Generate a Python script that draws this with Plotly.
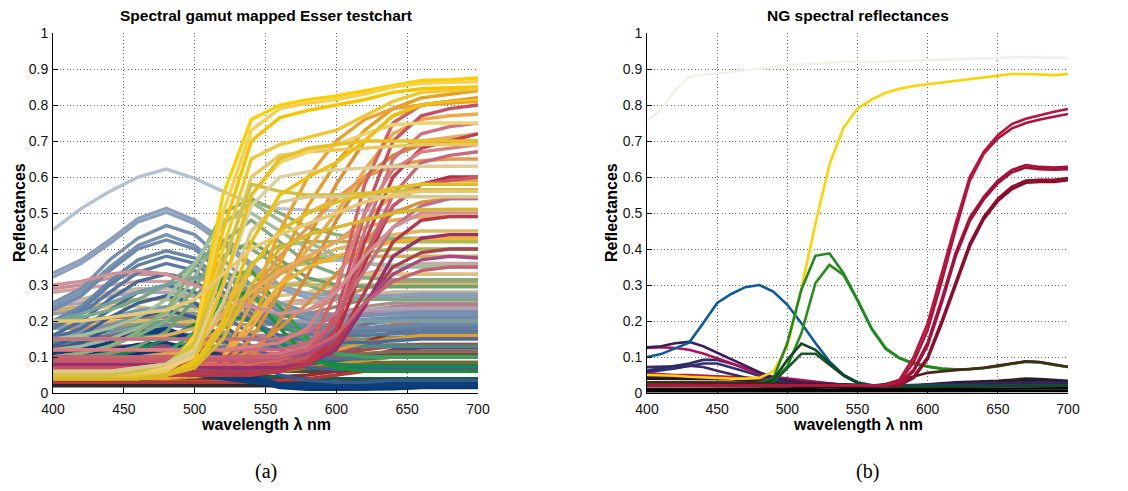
import plotly.graph_objects as go

# ---------------------------------------------------------------------------
# Panel (a): spectral gamut mapped Esser testchart (20 nm sampling)
# ---------------------------------------------------------------------------
wl_esser = [400, 420, 440, 460, 480, 500, 520, 540, 560, 580, 600, 620, 640, 660, 680, 700]

esser_neutral = [
    [0.29, 0.30, 0.32, 0.33, 0.33, 0.32, 0.30, 0.27, 0.25, 0.25, 0.26, 0.27, 0.28, 0.28, 0.28, 0.28],
    [0.28, 0.29, 0.30, 0.31, 0.31, 0.30, 0.28, 0.26, 0.25, 0.26, 0.29, 0.33, 0.35, 0.36, 0.36, 0.36],
    [0.22, 0.23, 0.24, 0.24, 0.23, 0.23, 0.25, 0.28, 0.30, 0.31, 0.32, 0.33, 0.33, 0.33, 0.33, 0.33],
    [0.20, 0.20, 0.21, 0.21, 0.20, 0.20, 0.22, 0.25, 0.27, 0.28, 0.30, 0.32, 0.33, 0.33, 0.33, 0.33],
    [0.25, 0.26, 0.28, 0.29, 0.29, 0.28, 0.27, 0.26, 0.25, 0.25, 0.26, 0.27, 0.28, 0.28, 0.28, 0.28],
    [0.18, 0.18, 0.19, 0.19, 0.19, 0.19, 0.19, 0.19, 0.19, 0.20, 0.22, 0.24, 0.25, 0.25, 0.25, 0.25],
    [0.22, 0.23, 0.25, 0.26, 0.26, 0.25, 0.23, 0.21, 0.20, 0.20, 0.21, 0.22, 0.23, 0.23, 0.23, 0.23],
    [0.14, 0.14, 0.15, 0.15, 0.15, 0.15, 0.16, 0.17, 0.18, 0.19, 0.21, 0.23, 0.24, 0.24, 0.24, 0.24],
    [0.16, 0.17, 0.18, 0.19, 0.19, 0.18, 0.17, 0.16, 0.16, 0.17, 0.19, 0.22, 0.24, 0.245, 0.245, 0.245],
    [0.18, 0.18, 0.19, 0.19, 0.19, 0.19, 0.20, 0.21, 0.22, 0.23, 0.26, 0.29, 0.31, 0.31, 0.31, 0.31],
    [0.19, 0.19, 0.20, 0.20, 0.20, 0.20, 0.22, 0.27, 0.33, 0.37, 0.40, 0.42, 0.44, 0.45, 0.45, 0.45],
    [0.23, 0.24, 0.25, 0.26, 0.26, 0.27, 0.30, 0.33, 0.35, 0.36, 0.37, 0.38, 0.38, 0.38, 0.38, 0.38],
    [0.16, 0.17, 0.19, 0.21, 0.22, 0.22, 0.21, 0.20, 0.19, 0.19, 0.19, 0.19, 0.20, 0.20, 0.20, 0.20],
    [0.24, 0.25, 0.27, 0.28, 0.28, 0.27, 0.25, 0.23, 0.22, 0.22, 0.22, 0.23, 0.235, 0.235, 0.235, 0.235],
]
esser_neutral_colors = ["#c89098", "#d4a0a0", "#d8c080", "#e0c080", "#c8b8a0", "#a89088", "#9a9ab0",
                        "#b0a088", "#b08090", "#c89060", "#e0b860", "#d0b060", "#8090a0", "#b0a0b8"]

esser_muted = [
    [0.13, 0.14, 0.16, 0.18, 0.19, 0.18, 0.16, 0.15, 0.15, 0.16, 0.17, 0.18, 0.19, 0.19, 0.19, 0.19],
    [0.10, 0.10, 0.11, 0.12, 0.13, 0.14, 0.15, 0.15, 0.15, 0.15, 0.155, 0.16, 0.165, 0.165, 0.165, 0.165],
    [0.12, 0.12, 0.12, 0.12, 0.12, 0.12, 0.12, 0.13, 0.14, 0.15, 0.16, 0.17, 0.18, 0.18, 0.18, 0.18],
    [0.14, 0.15, 0.16, 0.17, 0.17, 0.16, 0.14, 0.13, 0.13, 0.14, 0.16, 0.19, 0.21, 0.215, 0.215, 0.215],
    [0.06, 0.06, 0.065, 0.07, 0.08, 0.09, 0.10, 0.10, 0.10, 0.10, 0.10, 0.105, 0.11, 0.11, 0.11, 0.11],
    [0.15, 0.16, 0.17, 0.19, 0.20, 0.21, 0.21, 0.20, 0.19, 0.18, 0.18, 0.18, 0.18, 0.18, 0.18, 0.18],
    [0.08, 0.08, 0.085, 0.09, 0.09, 0.10, 0.11, 0.12, 0.13, 0.14, 0.145, 0.15, 0.155, 0.155, 0.155, 0.155],
    [0.09, 0.09, 0.10, 0.11, 0.11, 0.11, 0.10, 0.09, 0.09, 0.09, 0.095, 0.10, 0.105, 0.105, 0.105, 0.105],
    [0.09, 0.09, 0.09, 0.09, 0.09, 0.085, 0.08, 0.08, 0.08, 0.085, 0.10, 0.13, 0.15, 0.16, 0.16, 0.16],
    [0.04, 0.04, 0.045, 0.05, 0.055, 0.065, 0.075, 0.075, 0.07, 0.065, 0.065, 0.065, 0.07, 0.07, 0.07, 0.07],
    [0.18, 0.19, 0.21, 0.23, 0.24, 0.24, 0.23, 0.22, 0.215, 0.215, 0.215, 0.215, 0.22, 0.22, 0.22, 0.22],
    [0.20, 0.20, 0.21, 0.21, 0.21, 0.21, 0.21, 0.21, 0.21, 0.22, 0.24, 0.26, 0.27, 0.27, 0.27, 0.27],
]
esser_muted_colors = ["#7088a8", "#5a8a88", "#8a7a70", "#7a6a90", "#4a7a6a", "#6a9a8a",
                      "#8a8a60", "#6a7890", "#905060", "#3a7a60", "#7a9ab0", "#9a8070"]

esser_low = [
    [0.06, 0.06, 0.06, 0.06, 0.06, 0.06, 0.065, 0.07, 0.075, 0.08, 0.09, 0.10, 0.11, 0.11, 0.11, 0.11],
    [0.07, 0.07, 0.07, 0.07, 0.07, 0.07, 0.07, 0.07, 0.07, 0.08, 0.10, 0.14, 0.17, 0.18, 0.18, 0.18],
    [0.10, 0.10, 0.10, 0.10, 0.10, 0.10, 0.10, 0.10, 0.10, 0.11, 0.12, 0.14, 0.15, 0.155, 0.155, 0.155],
    [0.05, 0.05, 0.05, 0.055, 0.06, 0.07, 0.08, 0.08, 0.07, 0.065, 0.065, 0.065, 0.065, 0.065, 0.065, 0.065],
    [0.07, 0.07, 0.075, 0.08, 0.09, 0.10, 0.11, 0.10, 0.09, 0.085, 0.085, 0.085, 0.085, 0.085, 0.085, 0.085],
    [0.04, 0.04, 0.04, 0.04, 0.04, 0.045, 0.05, 0.055, 0.06, 0.06, 0.06, 0.06, 0.06, 0.06, 0.06, 0.06],
    [0.09, 0.09, 0.10, 0.10, 0.10, 0.09, 0.08, 0.07, 0.07, 0.07, 0.08, 0.10, 0.12, 0.125, 0.125, 0.125],
    [0.12, 0.12, 0.125, 0.13, 0.13, 0.13, 0.13, 0.13, 0.13, 0.13, 0.13, 0.13, 0.135, 0.135, 0.135, 0.135],
    [0.03, 0.03, 0.03, 0.03, 0.03, 0.03, 0.03, 0.03, 0.03, 0.03, 0.03, 0.035, 0.035, 0.035, 0.035, 0.035],
    [0.03, 0.03, 0.03, 0.03, 0.03, 0.035, 0.04, 0.05, 0.06, 0.07, 0.08, 0.09, 0.10, 0.10, 0.10, 0.10],
    [0.04, 0.04, 0.04, 0.04, 0.04, 0.04, 0.04, 0.04, 0.045, 0.05, 0.06, 0.07, 0.08, 0.08, 0.08, 0.08],
    [0.08, 0.08, 0.08, 0.08, 0.08, 0.08, 0.08, 0.08, 0.085, 0.09, 0.10, 0.12, 0.13, 0.135, 0.135, 0.135],
    [0.05, 0.05, 0.05, 0.055, 0.06, 0.07, 0.08, 0.08, 0.075, 0.07, 0.07, 0.07, 0.07, 0.07, 0.07, 0.07],
    [0.05, 0.05, 0.05, 0.05, 0.05, 0.05, 0.05, 0.045, 0.04, 0.04, 0.04, 0.04, 0.04, 0.04, 0.04, 0.04],
    [0.10, 0.10, 0.11, 0.11, 0.11, 0.11, 0.11, 0.10, 0.10, 0.10, 0.10, 0.10, 0.10, 0.10, 0.10, 0.10],
    [0.11, 0.11, 0.11, 0.11, 0.11, 0.11, 0.11, 0.11, 0.11, 0.12, 0.14, 0.17, 0.19, 0.20, 0.20, 0.20],
    [0.02, 0.02, 0.02, 0.02, 0.02, 0.02, 0.02, 0.02, 0.02, 0.02, 0.02, 0.02, 0.025, 0.025, 0.025, 0.025],
    [0.05, 0.05, 0.05, 0.05, 0.05, 0.05, 0.055, 0.06, 0.065, 0.07, 0.075, 0.08, 0.085, 0.085, 0.085, 0.085],
    [0.13, 0.13, 0.13, 0.13, 0.13, 0.12, 0.11, 0.10, 0.10, 0.10, 0.11, 0.13, 0.15, 0.16, 0.16, 0.16],
    [0.14, 0.14, 0.15, 0.16, 0.16, 0.16, 0.16, 0.15, 0.14, 0.13, 0.13, 0.13, 0.13, 0.13, 0.13, 0.13],
    [0.04, 0.04, 0.04, 0.04, 0.04, 0.045, 0.05, 0.06, 0.08, 0.10, 0.12, 0.14, 0.15, 0.16, 0.16, 0.16],
    [0.09, 0.09, 0.09, 0.09, 0.09, 0.09, 0.09, 0.09, 0.09, 0.095, 0.10, 0.11, 0.115, 0.115, 0.115, 0.115],
    [0.03, 0.03, 0.03, 0.035, 0.04, 0.05, 0.055, 0.05, 0.045, 0.04, 0.04, 0.04, 0.04, 0.04, 0.04, 0.04],
    [0.03, 0.03, 0.03, 0.03, 0.03, 0.03, 0.03, 0.03, 0.035, 0.04, 0.05, 0.06, 0.065, 0.065, 0.065, 0.065],
]
esser_low_colors = ["#6a4a3a", "#8a3a30", "#c04848", "#306050", "#2a7a50", "#504830", "#604878", "#708090",
                    "#404040", "#c8a020", "#883030", "#a05040", "#207858", "#3a3a5a", "#5a6a78", "#d07050",
                    "#2a2a2a", "#7a6a30", "#9a4a70", "#4a8a80", "#e0a030", "#8a6a50", "#1a5a48", "#b03838"]

esser_navy = [
    [0.11, 0.12, 0.14, 0.165, 0.17, 0.14, 0.09, 0.045, 0.02, 0.012, 0.012, 0.012, 0.015, 0.018, 0.018, 0.018],
    [0.09, 0.10, 0.12, 0.135, 0.14, 0.12, 0.08, 0.045, 0.02, 0.012, 0.012, 0.012, 0.014, 0.016, 0.016, 0.016],
    [0.08, 0.09, 0.10, 0.11, 0.11, 0.09, 0.06, 0.035, 0.015, 0.01, 0.01, 0.01, 0.012, 0.015, 0.015, 0.015],
    [0.06, 0.065, 0.07, 0.075, 0.075, 0.065, 0.045, 0.03, 0.02, 0.015, 0.015, 0.015, 0.018, 0.02, 0.02, 0.02],
    [0.12, 0.13, 0.15, 0.17, 0.18, 0.15, 0.10, 0.05, 0.025, 0.02, 0.02, 0.02, 0.022, 0.025, 0.025, 0.025],
    [0.05, 0.05, 0.055, 0.06, 0.06, 0.05, 0.04, 0.03, 0.025, 0.025, 0.025, 0.025, 0.028, 0.03, 0.03, 0.03],
]
esser_navy_colors = ["#0c3f80", "#0a3a78", "#083878", "#0a3c7c", "#103e7a", "#0a4078"]

esser_steel = [
    [0.453, 0.513, 0.56, 0.60, 0.622, 0.596, 0.56, 0.527, 0.512, 0.508, 0.507, 0.507, 0.507, 0.508, 0.51, 0.51],
    [0.333, 0.37, 0.425, 0.485, 0.513, 0.48, 0.425, 0.36, 0.30, 0.275, 0.27, 0.27, 0.27, 0.275, 0.275, 0.275],
    [0.322, 0.36, 0.415, 0.475, 0.502, 0.47, 0.415, 0.35, 0.29, 0.265, 0.26, 0.26, 0.26, 0.265, 0.265, 0.265],
    [0.25, 0.29, 0.37, 0.43, 0.465, 0.44, 0.37, 0.30, 0.25, 0.225, 0.215, 0.215, 0.22, 0.225, 0.225, 0.225],
    [0.24, 0.28, 0.35, 0.41, 0.44, 0.41, 0.345, 0.28, 0.235, 0.215, 0.205, 0.205, 0.21, 0.215, 0.215, 0.215],
    [0.23, 0.27, 0.34, 0.40, 0.425, 0.40, 0.33, 0.27, 0.225, 0.205, 0.20, 0.20, 0.205, 0.21, 0.21, 0.21],
    [0.20, 0.24, 0.31, 0.37, 0.395, 0.375, 0.31, 0.245, 0.20, 0.185, 0.18, 0.18, 0.185, 0.19, 0.19, 0.19],
    [0.19, 0.23, 0.30, 0.355, 0.38, 0.36, 0.30, 0.235, 0.19, 0.175, 0.17, 0.17, 0.175, 0.18, 0.18, 0.18],
    [0.18, 0.22, 0.28, 0.335, 0.36, 0.34, 0.28, 0.22, 0.18, 0.165, 0.16, 0.16, 0.165, 0.17, 0.17, 0.17],
    [0.16, 0.20, 0.26, 0.31, 0.33, 0.31, 0.255, 0.20, 0.16, 0.145, 0.14, 0.14, 0.145, 0.15, 0.15, 0.15],
    [0.15, 0.18, 0.23, 0.28, 0.30, 0.28, 0.22, 0.16, 0.12, 0.10, 0.095, 0.095, 0.10, 0.10, 0.10, 0.10],
    [0.13, 0.16, 0.21, 0.25, 0.27, 0.25, 0.19, 0.13, 0.09, 0.07, 0.065, 0.065, 0.07, 0.07, 0.07, 0.07],
    [0.12, 0.14, 0.18, 0.21, 0.23, 0.21, 0.15, 0.09, 0.05, 0.035, 0.03, 0.03, 0.035, 0.035, 0.035, 0.035],
]
esser_steel_colors = ["#b4c2d2", "#8ca0bc", "#8ca0bc", "#7890b0", "#7a92b2", "#6f8aac",
                      "#6a86a8", "#5e7ea4", "#5878a0", "#4a6c98", "#4e6e9a", "#3f6294", "#345a90"]

esser_green = [
    [0.12, 0.13, 0.15, 0.18, 0.22, 0.32, 0.47, 0.53, 0.48, 0.42, 0.38, 0.36, 0.35, 0.35, 0.35, 0.35],
    [0.10, 0.11, 0.13, 0.16, 0.20, 0.29, 0.42, 0.48, 0.42, 0.36, 0.33, 0.32, 0.315, 0.315, 0.315, 0.315],
    [0.20, 0.21, 0.23, 0.26, 0.30, 0.36, 0.42, 0.40, 0.35, 0.30, 0.27, 0.26, 0.26, 0.26, 0.26, 0.26],
    [0.05, 0.05, 0.05, 0.06, 0.08, 0.16, 0.32, 0.34, 0.24, 0.15, 0.11, 0.10, 0.10, 0.10, 0.10, 0.10],
    [0.04, 0.04, 0.04, 0.05, 0.06, 0.13, 0.27, 0.28, 0.18, 0.10, 0.07, 0.06, 0.06, 0.06, 0.06, 0.06],
    [0.08, 0.09, 0.10, 0.12, 0.15, 0.19, 0.22, 0.20, 0.14, 0.10, 0.08, 0.075, 0.075, 0.075, 0.075, 0.075],
    [0.05, 0.05, 0.06, 0.07, 0.09, 0.13, 0.24, 0.36, 0.41, 0.42, 0.42, 0.42, 0.42, 0.42, 0.42, 0.42],
    [0.05, 0.05, 0.06, 0.07, 0.08, 0.11, 0.19, 0.29, 0.35, 0.37, 0.38, 0.39, 0.40, 0.40, 0.40, 0.40],
    [0.06, 0.06, 0.07, 0.08, 0.10, 0.14, 0.22, 0.28, 0.30, 0.30, 0.30, 0.30, 0.30, 0.30, 0.30, 0.30],
    [0.10, 0.10, 0.11, 0.13, 0.17, 0.26, 0.38, 0.42, 0.37, 0.32, 0.30, 0.295, 0.295, 0.295, 0.295, 0.295],
    [0.20, 0.22, 0.25, 0.28, 0.30, 0.32, 0.33, 0.30, 0.25, 0.21, 0.20, 0.20, 0.20, 0.20, 0.20, 0.20],
    [0.07, 0.07, 0.08, 0.09, 0.11, 0.17, 0.26, 0.27, 0.20, 0.14, 0.11, 0.10, 0.10, 0.10, 0.10, 0.10],
    [0.10, 0.11, 0.13, 0.17, 0.23, 0.35, 0.50, 0.54, 0.50, 0.46, 0.44, 0.43, 0.43, 0.43, 0.43, 0.43],
    [0.15, 0.16, 0.18, 0.21, 0.26, 0.36, 0.48, 0.50, 0.45, 0.40, 0.37, 0.36, 0.355, 0.355, 0.355, 0.355],
]
esser_green_colors = ["#9cb898", "#80ac80", "#7aa888", "#30a040", "#189038", "#10885c", "#b0b850",
                      "#a8b048", "#b8b860", "#70a070", "#78a0a0", "#40a060", "#88b078", "#a0c0a0"]

esser_orange = [
    [0.05, 0.05, 0.05, 0.05, 0.05, 0.06, 0.10, 0.20, 0.36, 0.52, 0.64, 0.73, 0.79, 0.82, 0.83, 0.84],
    [0.05, 0.05, 0.05, 0.05, 0.05, 0.05, 0.08, 0.15, 0.28, 0.43, 0.58, 0.70, 0.77, 0.80, 0.81, 0.82],
    [0.06, 0.06, 0.06, 0.06, 0.06, 0.07, 0.10, 0.18, 0.30, 0.40, 0.50, 0.62, 0.72, 0.76, 0.77, 0.775],
    [0.08, 0.08, 0.08, 0.08, 0.09, 0.12, 0.22, 0.35, 0.45, 0.50, 0.54, 0.60, 0.66, 0.70, 0.71, 0.72],
    [0.05, 0.05, 0.05, 0.05, 0.05, 0.05, 0.06, 0.10, 0.20, 0.33, 0.48, 0.60, 0.66, 0.69, 0.70, 0.70],
    [0.10, 0.10, 0.10, 0.10, 0.10, 0.12, 0.18, 0.28, 0.38, 0.46, 0.54, 0.60, 0.63, 0.645, 0.65, 0.65],
    [0.04, 0.04, 0.04, 0.04, 0.04, 0.05, 0.10, 0.25, 0.45, 0.60, 0.70, 0.76, 0.79, 0.80, 0.805, 0.81],
    [0.10, 0.10, 0.10, 0.10, 0.11, 0.13, 0.18, 0.26, 0.33, 0.38, 0.42, 0.48, 0.55, 0.58, 0.59, 0.59],
    [0.05, 0.05, 0.05, 0.05, 0.05, 0.06, 0.08, 0.12, 0.18, 0.25, 0.33, 0.42, 0.50, 0.53, 0.54, 0.54],
    [0.15, 0.15, 0.15, 0.15, 0.16, 0.18, 0.22, 0.28, 0.34, 0.38, 0.42, 0.46, 0.48, 0.49, 0.49, 0.49],
    [0.04, 0.04, 0.04, 0.04, 0.05, 0.06, 0.10, 0.20, 0.30, 0.35, 0.38, 0.40, 0.42, 0.43, 0.43, 0.43],
]
esser_orange_colors = ["#e8a020", "#e09030", "#f0a848", "#e8b060", "#d88838", "#e89850",
                       "#f0a030", "#e0a050", "#d89040", "#e8a860", "#f0b030"]

esser_red = [
    [0.08, 0.08, 0.08, 0.08, 0.08, 0.08, 0.08, 0.08, 0.09, 0.12, 0.28, 0.58, 0.75, 0.80, 0.81, 0.815],
    [0.07, 0.07, 0.07, 0.07, 0.07, 0.07, 0.07, 0.07, 0.08, 0.10, 0.22, 0.50, 0.70, 0.77, 0.79, 0.80],
    [0.10, 0.10, 0.10, 0.10, 0.10, 0.10, 0.10, 0.10, 0.11, 0.13, 0.20, 0.45, 0.65, 0.72, 0.74, 0.75],
    [0.06, 0.06, 0.06, 0.06, 0.06, 0.06, 0.06, 0.06, 0.07, 0.09, 0.18, 0.42, 0.60, 0.68, 0.70, 0.72],
    [0.05, 0.05, 0.05, 0.05, 0.05, 0.05, 0.05, 0.05, 0.06, 0.08, 0.16, 0.36, 0.52, 0.58, 0.60, 0.60],
    [0.12, 0.12, 0.12, 0.12, 0.12, 0.12, 0.12, 0.12, 0.12, 0.14, 0.20, 0.38, 0.55, 0.64, 0.66, 0.67],
    [0.15, 0.15, 0.15, 0.15, 0.15, 0.15, 0.15, 0.15, 0.15, 0.17, 0.22, 0.34, 0.46, 0.52, 0.54, 0.54],
    [0.06, 0.06, 0.06, 0.06, 0.06, 0.06, 0.06, 0.06, 0.065, 0.08, 0.13, 0.25, 0.35, 0.39, 0.40, 0.40],
    [0.08, 0.08, 0.08, 0.08, 0.08, 0.07, 0.07, 0.07, 0.07, 0.08, 0.12, 0.24, 0.38, 0.43, 0.44, 0.44],
    [0.10, 0.10, 0.10, 0.10, 0.10, 0.10, 0.10, 0.10, 0.10, 0.11, 0.15, 0.25, 0.33, 0.37, 0.38, 0.375],
    [0.12, 0.12, 0.12, 0.12, 0.12, 0.12, 0.12, 0.13, 0.14, 0.18, 0.30, 0.50, 0.62, 0.67, 0.68, 0.69],
    [0.09, 0.09, 0.09, 0.09, 0.09, 0.09, 0.09, 0.09, 0.10, 0.12, 0.20, 0.38, 0.52, 0.58, 0.59, 0.60],
    [0.05, 0.05, 0.05, 0.05, 0.05, 0.05, 0.05, 0.05, 0.06, 0.08, 0.14, 0.28, 0.42, 0.48, 0.49, 0.49],
    [0.10, 0.10, 0.10, 0.10, 0.10, 0.10, 0.10, 0.10, 0.10, 0.12, 0.16, 0.25, 0.31, 0.34, 0.35, 0.35],
    [0.30, 0.31, 0.33, 0.34, 0.33, 0.30, 0.27, 0.24, 0.22, 0.23, 0.28, 0.38, 0.46, 0.50, 0.50, 0.50],
]
esser_red_colors = ["#d86060", "#c85060", "#d07080", "#c04050", "#b83040", "#c86878", "#c07080", "#a84050",
                    "#983070", "#a84880", "#d88080", "#c85868", "#b83848", "#c86070", "#d09098"]

esser_yellow = [
    [0.05, 0.05, 0.05, 0.05, 0.06, 0.16, 0.55, 0.76, 0.80, 0.815, 0.825, 0.84, 0.855, 0.868, 0.87, 0.875],
    [0.05, 0.05, 0.05, 0.055, 0.065, 0.15, 0.50, 0.73, 0.79, 0.805, 0.815, 0.83, 0.85, 0.86, 0.862, 0.865],
    [0.05, 0.05, 0.05, 0.05, 0.06, 0.13, 0.45, 0.70, 0.765, 0.785, 0.80, 0.815, 0.835, 0.845, 0.848, 0.85],
    [0.05, 0.05, 0.05, 0.05, 0.06, 0.12, 0.40, 0.65, 0.69, 0.71, 0.73, 0.77, 0.81, 0.835, 0.84, 0.845],
    [0.05, 0.05, 0.05, 0.05, 0.06, 0.11, 0.35, 0.60, 0.66, 0.67, 0.675, 0.68, 0.685, 0.69, 0.69, 0.69],
    [0.06, 0.06, 0.06, 0.06, 0.07, 0.10, 0.30, 0.55, 0.64, 0.67, 0.69, 0.72, 0.745, 0.75, 0.75, 0.75],
    [0.05, 0.05, 0.05, 0.06, 0.08, 0.14, 0.36, 0.58, 0.56, 0.55, 0.55, 0.555, 0.56, 0.565, 0.565, 0.565],
    [0.06, 0.06, 0.06, 0.07, 0.08, 0.12, 0.30, 0.52, 0.60, 0.615, 0.62, 0.625, 0.63, 0.63, 0.63, 0.63],
    [0.06, 0.06, 0.06, 0.07, 0.08, 0.11, 0.25, 0.45, 0.53, 0.545, 0.545, 0.545, 0.545, 0.545, 0.545, 0.545],
    [0.04, 0.04, 0.04, 0.045, 0.05, 0.09, 0.30, 0.55, 0.65, 0.68, 0.69, 0.70, 0.70, 0.70, 0.70, 0.70],
    [0.04, 0.04, 0.04, 0.04, 0.05, 0.08, 0.20, 0.42, 0.55, 0.60, 0.64, 0.70, 0.77, 0.80, 0.81, 0.815],
    [0.04, 0.04, 0.04, 0.04, 0.05, 0.07, 0.18, 0.35, 0.45, 0.50, 0.53, 0.55, 0.57, 0.58, 0.58, 0.58],
    [0.04, 0.04, 0.04, 0.04, 0.05, 0.07, 0.15, 0.30, 0.40, 0.44, 0.46, 0.48, 0.50, 0.51, 0.51, 0.51],
    [0.20, 0.20, 0.21, 0.22, 0.23, 0.26, 0.33, 0.40, 0.44, 0.47, 0.50, 0.53, 0.55, 0.56, 0.56, 0.56],
]
esser_yellow_colors = ["#fcd000", "#f8d050", "#f8c400", "#f0c830", "#e8c860", "#f0d070", "#d4c040",
                       "#dcd09c", "#d8c890", "#e8c020", "#f0c010", "#e0c020", "#d8b828", "#e8c870"]

# ---------------------------------------------------------------------------
# Panel (b): NG spectral reflectances (10 nm sampling)
# ---------------------------------------------------------------------------
wl_ng = [400, 410, 420, 430, 440, 450, 460, 470, 480, 490, 500, 510, 520, 530, 540, 550,
         560, 570, 580, 590, 600, 610, 620, 630, 640, 650, 660, 670, 680, 690, 700]

ng_white = [0.756, 0.786, 0.841, 0.878, 0.884, 0.888, 0.891, 0.895, 0.900, 0.905, 0.910, 0.913, 0.916, 0.918, 0.920, 0.921,
            0.919, 0.921, 0.922, 0.923, 0.924, 0.925, 0.926, 0.927, 0.929, 0.931, 0.933, 0.933, 0.932, 0.931, 0.931]
ng_dark_f = [0.005, 0.005, 0.005, 0.005, 0.005, 0.005, 0.005, 0.005, 0.005, 0.005, 0.005, 0.005, 0.004, 0.004, 0.004, 0.004,
             0.004, 0.004, 0.004, 0.004, 0.005, 0.005, 0.005, 0.005, 0.005, 0.005, 0.006, 0.006, 0.006, 0.006, 0.006]
ng_dark_e = [0.012, 0.012, 0.012, 0.012, 0.012, 0.012, 0.012, 0.011, 0.011, 0.011, 0.010, 0.010, 0.010, 0.009, 0.009, 0.009,
             0.009, 0.009, 0.009, 0.010, 0.010, 0.011, 0.011, 0.012, 0.012, 0.012, 0.013, 0.014, 0.014, 0.013, 0.013]
ng_dark_d = [0.020, 0.020, 0.020, 0.020, 0.020, 0.020, 0.020, 0.019, 0.019, 0.018, 0.018, 0.017, 0.016, 0.015, 0.014, 0.014,
             0.013, 0.013, 0.014, 0.015, 0.016, 0.017, 0.018, 0.018, 0.019, 0.020, 0.021, 0.022, 0.022, 0.021, 0.021]
ng_dark_c = [0.030, 0.030, 0.030, 0.030, 0.030, 0.030, 0.029, 0.028, 0.027, 0.026, 0.025, 0.024, 0.022, 0.020, 0.018, 0.017,
             0.016, 0.016, 0.017, 0.018, 0.020, 0.022, 0.023, 0.024, 0.025, 0.026, 0.028, 0.030, 0.029, 0.028, 0.027]
ng_dark_b = [0.040, 0.040, 0.040, 0.040, 0.040, 0.040, 0.038, 0.035, 0.032, 0.030, 0.028, 0.026, 0.024, 0.022, 0.020, 0.018,
             0.018, 0.018, 0.018, 0.020, 0.022, 0.025, 0.027, 0.028, 0.029, 0.031, 0.034, 0.036, 0.035, 0.033, 0.032]
ng_dark_a = [0.045, 0.045, 0.046, 0.047, 0.047, 0.045, 0.042, 0.038, 0.034, 0.030, 0.028, 0.026, 0.024, 0.022, 0.020, 0.019,
             0.018, 0.018, 0.019, 0.020, 0.024, 0.028, 0.030, 0.031, 0.032, 0.034, 0.037, 0.040, 0.039, 0.036, 0.034]
ng_rose = [0.055, 0.052, 0.050, 0.050, 0.048, 0.046, 0.044, 0.042, 0.040, 0.038, 0.037, 0.035, 0.030, 0.025, 0.022, 0.020,
           0.020, 0.020, 0.020, 0.020, 0.020, 0.020, 0.020, 0.020, 0.020, 0.020, 0.021, 0.022, 0.021, 0.020, 0.020]
ng_indigo_c = [0.058, 0.062, 0.068, 0.075, 0.082, 0.082, 0.072, 0.060, 0.048, 0.038, 0.032, 0.028, 0.025, 0.023, 0.021, 0.020,
               0.019, 0.019, 0.019, 0.020, 0.021, 0.022, 0.023, 0.023, 0.024, 0.025, 0.027, 0.028, 0.027, 0.026, 0.026]
ng_indigo_b = [0.072, 0.072, 0.074, 0.076, 0.072, 0.062, 0.052, 0.043, 0.036, 0.032, 0.030, 0.028, 0.026, 0.024, 0.022, 0.021,
               0.020, 0.020, 0.020, 0.021, 0.022, 0.023, 0.024, 0.024, 0.025, 0.026, 0.028, 0.029, 0.028, 0.027, 0.027]
ng_indigo_a = [0.062, 0.068, 0.074, 0.082, 0.092, 0.092, 0.082, 0.068, 0.055, 0.042, 0.035, 0.030, 0.027, 0.025, 0.023, 0.022,
               0.021, 0.021, 0.021, 0.022, 0.023, 0.024, 0.025, 0.025, 0.026, 0.027, 0.029, 0.030, 0.029, 0.028, 0.028]
ng_magenta = [0.125, 0.127, 0.125, 0.120, 0.110, 0.097, 0.083, 0.068, 0.054, 0.045, 0.040, 0.036, 0.030, 0.025, 0.022, 0.020,
              0.020, 0.020, 0.020, 0.020, 0.020, 0.020, 0.020, 0.020, 0.020, 0.020, 0.021, 0.022, 0.021, 0.020, 0.020]
ng_purple = [0.127, 0.130, 0.138, 0.142, 0.130, 0.112, 0.093, 0.075, 0.058, 0.042, 0.035, 0.030, 0.027, 0.025, 0.023, 0.022,
             0.021, 0.021, 0.022, 0.022, 0.022, 0.022, 0.022, 0.022, 0.022, 0.023, 0.024, 0.025, 0.024, 0.023, 0.023]
ng_blue = [0.100, 0.108, 0.124, 0.140, 0.194, 0.250, 0.275, 0.294, 0.300, 0.282, 0.245, 0.194, 0.139, 0.088, 0.050, 0.030,
           0.022, 0.020, 0.020, 0.020, 0.020, 0.020, 0.020, 0.020, 0.020, 0.020, 0.021, 0.022, 0.021, 0.020, 0.020]
ng_yellow = [0.050, 0.050, 0.048, 0.045, 0.043, 0.040, 0.040, 0.040, 0.042, 0.060, 0.130, 0.290, 0.470, 0.635, 0.737, 0.790,
             0.815, 0.834, 0.845, 0.853, 0.858, 0.863, 0.867, 0.871, 0.877, 0.882, 0.886, 0.886, 0.884, 0.883, 0.886]
ng_green_b = [0.020, 0.020, 0.020, 0.020, 0.020, 0.020, 0.020, 0.020, 0.022, 0.035, 0.074, 0.166, 0.305, 0.356, 0.328, 0.257,
              0.178, 0.123, 0.096, 0.082, 0.073, 0.067, 0.065, 0.066, 0.069, 0.074, 0.081, 0.087, 0.085, 0.078, 0.072]
ng_green_a = [0.025, 0.025, 0.025, 0.025, 0.025, 0.025, 0.025, 0.026, 0.028, 0.040, 0.139, 0.287, 0.381, 0.388, 0.333, 0.259,
              0.180, 0.125, 0.097, 0.083, 0.074, 0.068, 0.066, 0.066, 0.069, 0.074, 0.081, 0.087, 0.085, 0.078, 0.072]
ng_dkgreen_b = [0.020, 0.020, 0.020, 0.020, 0.020, 0.020, 0.020, 0.020, 0.022, 0.030, 0.070, 0.109, 0.109, 0.078, 0.048, 0.028,
                0.020, 0.018, 0.018, 0.018, 0.018, 0.020, 0.020, 0.020, 0.020, 0.020, 0.020, 0.020, 0.020, 0.020, 0.020]
ng_dkgreen_a = [0.020, 0.020, 0.020, 0.020, 0.020, 0.020, 0.020, 0.020, 0.025, 0.037, 0.092, 0.137, 0.120, 0.083, 0.050, 0.028,
                0.020, 0.018, 0.018, 0.018, 0.018, 0.020, 0.020, 0.020, 0.020, 0.020, 0.020, 0.020, 0.020, 0.020, 0.020]
ng_brown = [0.030, 0.030, 0.030, 0.030, 0.030, 0.030, 0.029, 0.028, 0.027, 0.026, 0.025, 0.024, 0.023, 0.022, 0.021, 0.020,
            0.020, 0.025, 0.035, 0.047, 0.056, 0.060, 0.063, 0.066, 0.070, 0.076, 0.083, 0.088, 0.086, 0.079, 0.073]
ng_red_d2 = [0.020, 0.020, 0.020, 0.020, 0.020, 0.020, 0.020, 0.020, 0.020, 0.020, 0.020, 0.020, 0.020, 0.020, 0.020, 0.020,
             0.020, 0.020, 0.021, 0.042, 0.094, 0.192, 0.302, 0.407, 0.483, 0.533, 0.566, 0.584, 0.586, 0.586, 0.591]
ng_red_d = [0.020, 0.020, 0.020, 0.020, 0.020, 0.020, 0.020, 0.020, 0.020, 0.020, 0.020, 0.020, 0.020, 0.020, 0.020, 0.020,
            0.020, 0.020, 0.022, 0.045, 0.100, 0.200, 0.310, 0.415, 0.490, 0.540, 0.573, 0.590, 0.592, 0.592, 0.597]
ng_red_c2 = [0.020, 0.020, 0.020, 0.020, 0.020, 0.020, 0.020, 0.020, 0.020, 0.020, 0.020, 0.020, 0.020, 0.020, 0.020, 0.020,
             0.020, 0.020, 0.026, 0.060, 0.132, 0.250, 0.380, 0.478, 0.538, 0.583, 0.613, 0.626, 0.622, 0.620, 0.622]
ng_red_c = [0.020, 0.020, 0.020, 0.020, 0.020, 0.020, 0.020, 0.020, 0.020, 0.020, 0.020, 0.020, 0.020, 0.020, 0.020, 0.020,
            0.020, 0.020, 0.028, 0.065, 0.140, 0.260, 0.390, 0.487, 0.545, 0.590, 0.620, 0.633, 0.628, 0.626, 0.628]
ng_red_b = [0.020, 0.020, 0.020, 0.020, 0.020, 0.020, 0.020, 0.020, 0.020, 0.020, 0.020, 0.020, 0.020, 0.020, 0.020, 0.020,
            0.020, 0.021, 0.030, 0.085, 0.175, 0.310, 0.455, 0.590, 0.665, 0.707, 0.735, 0.750, 0.760, 0.767, 0.775]
ng_red_a = [0.020, 0.020, 0.020, 0.020, 0.020, 0.020, 0.020, 0.020, 0.020, 0.020, 0.020, 0.020, 0.020, 0.020, 0.020, 0.020,
            0.020, 0.022, 0.037, 0.100, 0.194, 0.333, 0.471, 0.600, 0.670, 0.716, 0.747, 0.762, 0.772, 0.781, 0.789]

# drawing order for panel (b): later curves are painted on top
ng_series = [ng_white, ng_dark_f, ng_dark_e, ng_dark_d, ng_dark_c, ng_dark_b, ng_dark_a, ng_rose,
             ng_indigo_c, ng_indigo_b, ng_indigo_a, ng_magenta, ng_purple, ng_blue, ng_yellow,
             ng_green_b, ng_green_a, ng_dkgreen_b, ng_dkgreen_a, ng_brown,
             ng_red_d2, ng_red_d, ng_red_c2, ng_red_c, ng_red_b, ng_red_a]
ng_colors = ["#f1f1ec", "#000000", "#060506", "#0e0b0e", "#161116", "#22161e", "#2c1c24", "#c01a4c",
             "#30306a", "#3c2a62", "#2c2c6c", "#b4105a", "#3a1c5c", "#0d5a9c", "#ffd200",
             "#2a8e1c", "#1c8a1c", "#1a5a2a", "#0f4a22", "#4a2418",
             "#8a0a2a", "#900c2c", "#a20e38", "#a8103a", "#b0123c", "#b8143e"]

# ---------------------------------------------------------------------------
fig = go.Figure()

# drawing order for panel (a)
esser_groups = [
    (esser_neutral, esser_neutral_colors),
    (esser_muted, esser_muted_colors),
    (esser_low, esser_low_colors),
    (esser_navy, esser_navy_colors),
    (esser_steel, esser_steel_colors),
    (esser_green, esser_green_colors),
    (esser_orange, esser_orange_colors),
    (esser_red, esser_red_colors),
    (esser_yellow, esser_yellow_colors),
]
for curves, colors in esser_groups:
    for vals, col in zip(curves, colors):
        fig.add_trace(go.Scatter(x=wl_esser, y=vals, mode="lines",
                                 line=dict(color=col, width=3.4),
                                 xaxis="x", yaxis="y", showlegend=False, hoverinfo="skip"))

for vals, col in zip(ng_series, ng_colors):
    fig.add_trace(go.Scatter(x=wl_ng, y=vals, mode="lines",
                             line=dict(color=col, width=2.6),
                             xaxis="x2", yaxis="y2", showlegend=False, hoverinfo="skip"))

W, H = 1128, 491
left_dom = [53 / W, 478 / W]
right_dom = [647 / W, 1068 / W]
y_dom = [(H - 393) / H, (H - 33) / H]

tick_font = dict(family="Liberation Sans, Arial, sans-serif", size=14, color="#111")
axis_common = dict(
    showline=True, linecolor="black", linewidth=1, mirror=False,
    ticks="inside", ticklen=5, tickcolor="black",
    showgrid=True, gridcolor="#666", gridwidth=1, griddash="1px,2.4px",
    zeroline=False, tickfont=tick_font, automargin=False,
)
fig.update_layout(
    width=W, height=H,
    margin=dict(l=0, r=0, t=0, b=0),
    paper_bgcolor="white", plot_bgcolor="white",
    xaxis=dict(domain=left_dom, range=[400, 700], dtick=50, anchor="y", ticklabelstandoff=3, **axis_common),
    yaxis=dict(domain=y_dom, range=[0, 1], dtick=0.1, anchor="x", ticklabelstandoff=1, **axis_common),
    xaxis2=dict(domain=right_dom, range=[400, 700], dtick=50, anchor="y2", ticklabelstandoff=3, **axis_common),
    yaxis2=dict(domain=y_dom, range=[0, 1], dtick=0.1, anchor="x2", ticklabelstandoff=1, **axis_common),
)

bold = dict(family="Liberation Sans, Arial, sans-serif", color="black")
serif = dict(family="Liberation Serif, DejaVu Serif, serif", size=20, color="black")
lc = (left_dom[0] + left_dom[1]) / 2
rc = (right_dom[0] + right_dom[1]) / 2
y_mid = (y_dom[0] + y_dom[1]) / 2
notes = [
    dict(text="<b>Spectral gamut mapped Esser testchart</b>", x=lc, y=(H - 15) / H, font=dict(size=15.5, **bold)),
    dict(text="<b>NG spectral reflectances</b>", x=rc, y=(H - 15) / H, font=dict(size=15.5, **bold)),
    dict(text="<b>wavelength λ nm</b>", x=lc, y=(H - 424) / H, font=dict(size=16, **bold)),
    dict(text="<b>wavelength λ nm</b>", x=rc, y=(H - 424) / H, font=dict(size=16, **bold)),
    dict(text="<b>Reflectances</b>", x=19 / W, y=y_mid, textangle=-90, font=dict(size=16, **bold)),
    dict(text="<b>Reflectances</b>", x=611 / W, y=y_mid, textangle=-90, font=dict(size=16, **bold)),
    dict(text="(a)", x=266 / W, y=(H - 471) / H, font=serif),
    dict(text="(b)", x=867 / W, y=(H - 471) / H, font=serif),
]
for n in notes:
    fig.add_annotation(xref="paper", yref="paper", showarrow=False,
                       xanchor="center", yanchor="middle", **n)

fig.write_html("out.html")
